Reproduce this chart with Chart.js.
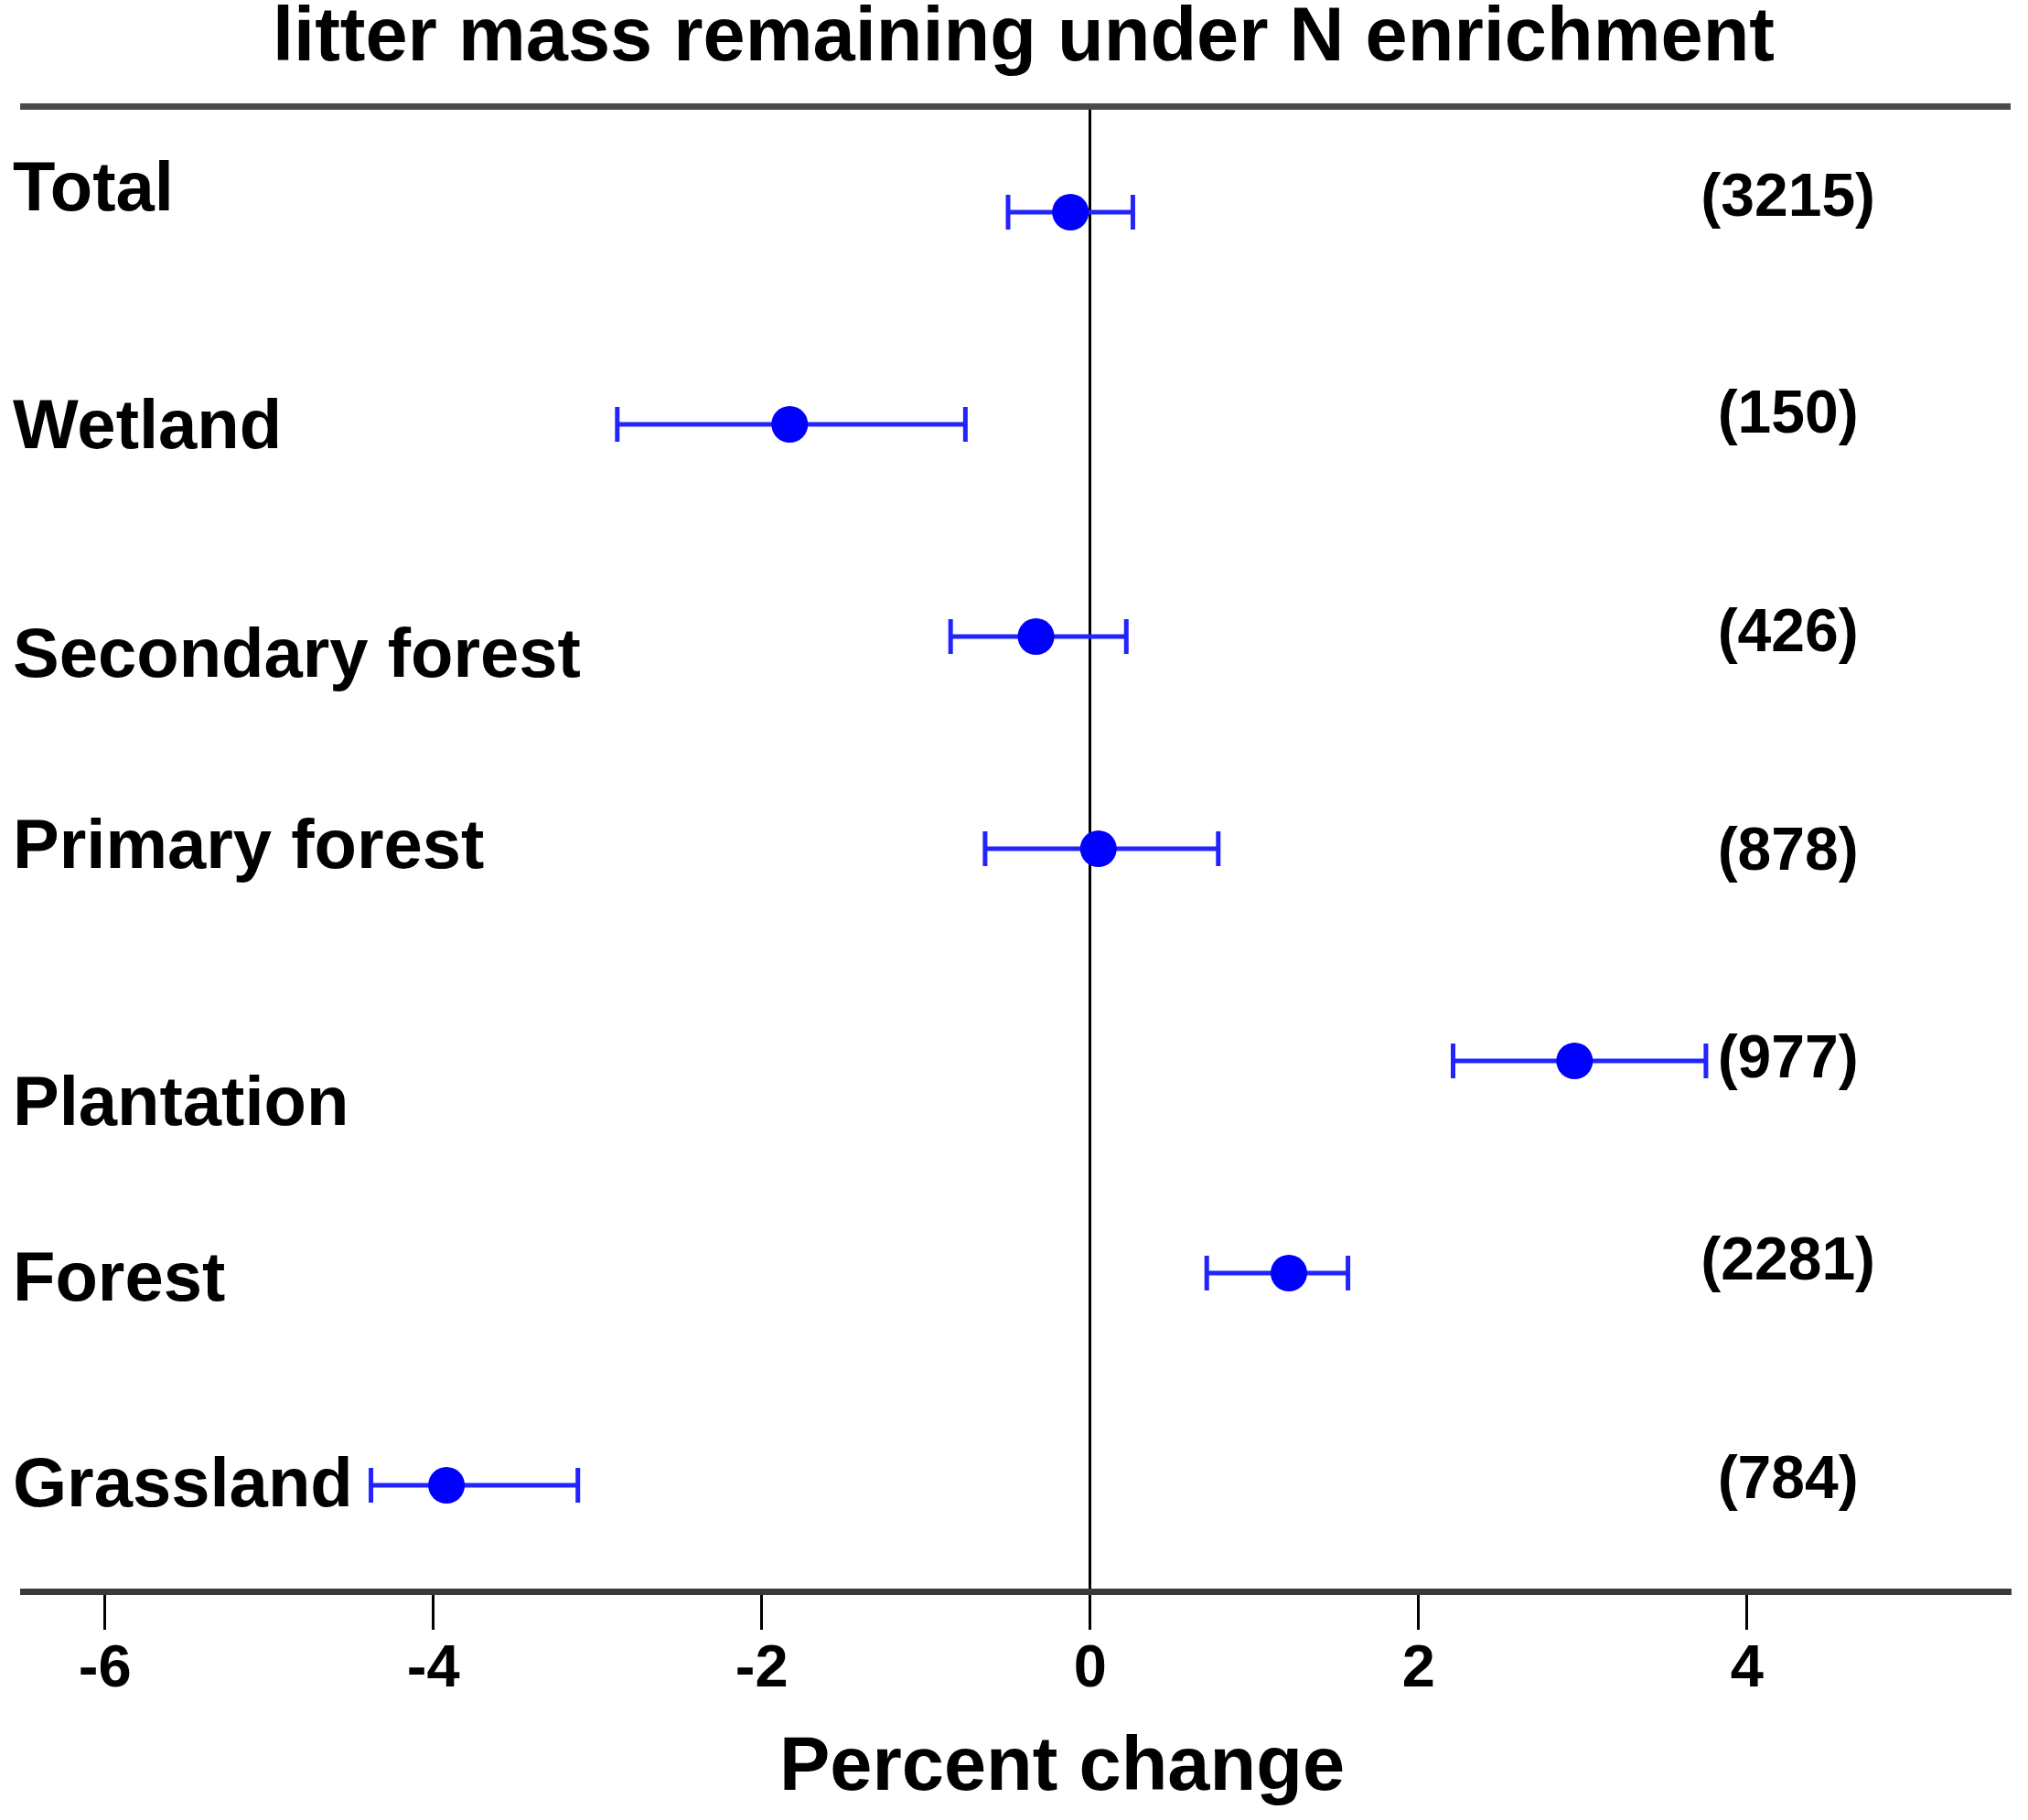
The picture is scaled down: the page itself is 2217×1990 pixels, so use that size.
<!DOCTYPE html>
<html>
<head>
<meta charset="utf-8">
<title>litter mass remaining under N enrichment</title>
<script src="https://cdn.jsdelivr.net/npm/chart.js@4/dist/chart.umd.min.js"></script>
<style>
    html, body { margin: 0; padding: 0; background: #FFFFFF; }
    #wrap { width: 2217px; height: 1990px; position: relative; }
</style>
</head>
<body>
<div id="wrap"><canvas id="forestChart"></canvas></div>
<script>
// Data
const categories = ['Total', 'Wetland', 'Secondary forest', 'Primary forest', 'Plantation', 'Forest', 'Grassland'];
const meanChange = [-0.12, -1.83, -0.33, 0.05, 2.95, 1.21, -3.92];
const lowerCI = [-0.50, -2.88, -0.85, -0.64, 2.21, 0.71, -4.38];
const upperCI = [0.26, -0.76, 0.22, 0.78, 3.75, 1.57, -3.12];
const sampleSizes = ['(3215)', '(150)', '(426)', '(878)', '(977)', '(2281)', '(784)'];
const xTicks = [-6, -4, -2, 0, 2, 4];

const FONT = "'Liberation Sans', Arial, sans-serif";
const BLUE = '#0000FF';

// Small vertical nudges (fraction of a row) so the texts sit like in the figure
const labelNudge = [-0.10, 0.02, 0.10, 0, 0.21, 0.04, 0.01];
const countNudge = [-0.06, -0.04, -0.01, 0.02, 0, -0.05, -0.02];

// Error bars with caps
const errorBarPlugin = {
    id: 'errorBars',
    beforeDatasetsDraw(chart) {
        const ctx = chart.ctx;
        const xScale = chart.scales.x;
        const yScale = chart.scales.y;
        ctx.save();
        ctx.strokeStyle = '#2323FF';
        ctx.lineWidth = 5;
        categories.forEach((c, i) => {
            const y = yScale.getPixelForValue(i);
            const x1 = xScale.getPixelForValue(lowerCI[i]);
            const x2 = xScale.getPixelForValue(upperCI[i]);
            ctx.beginPath();
            ctx.moveTo(x1, y);
            ctx.lineTo(x2, y);
            ctx.moveTo(x1, y - 19);
            ctx.lineTo(x1, y + 19);
            ctx.moveTo(x2, y - 19);
            ctx.lineTo(x2, y + 19);
            ctx.stroke();
        });
        ctx.restore();
    }
};

// Row labels on the left, sample sizes on the right, axis title below
const rowTextPlugin = {
    id: 'rowText',
    afterDatasetsDraw(chart) {
        const ctx = chart.ctx;
        const xScale = chart.scales.x;
        const yScale = chart.scales.y;
        const rowH = Math.abs(yScale.getPixelForValue(1) - yScale.getPixelForValue(0));
        ctx.save();
        ctx.fillStyle = '#000000';
        ctx.textBaseline = 'middle';

        ctx.font = 'bold 76px ' + FONT;
        ctx.textAlign = 'left';
        categories.forEach((c, i) => {
            ctx.fillText(c, 14, yScale.getPixelForValue(i) + labelNudge[i] * rowH);
        });

        ctx.font = 'bold 66px ' + FONT;
        ctx.textAlign = 'center';
        const xc = xScale.getPixelForValue(4.25);
        sampleSizes.forEach((s, i) => {
            ctx.fillText(s, xc, yScale.getPixelForValue(i) + countNudge[i] * rowH);
        });

        // x axis title sits a little right of the centre in the figure
        ctx.font = 'bold 83px ' + FONT;
        const area = chart.chartArea;
        ctx.fillText('Percent change', (area.left + area.right) / 2 + 50, chart.height - 56);
        ctx.restore();
    }
};

function initChart() {
    const ctx = document.getElementById('forestChart');

    new Chart(ctx, {
        type: 'line',
        data: {
            labels: categories,
            datasets: [{
                label: 'Percent change',
                data: meanChange,
                showLine: false,
                pointRadius: 20,
                pointHoverRadius: 20,
                pointBackgroundColor: BLUE,
                pointBorderColor: BLUE,
                pointBorderWidth: 0
            }]
        },
        options: {
            indexAxis: 'y',
            responsive: true,
            maintainAspectRatio: false,
            animation: false,
            layout: {
                padding: { left: 25, right: 4, top: 0, bottom: 119 }
            },
            plugins: {
                legend: { display: false },
                tooltip: { enabled: false },
                title: {
                    display: true,
                    text: 'litter mass remaining under N enrichment',
                    color: '#000000',
                    font: { family: FONT, weight: 'bold', size: 83, lineHeight: 1 },
                    padding: { top: 2, bottom: 31 }
                }
            },
            scales: {
                y: {
                    type: 'category',
                    display: false,
                    offset: true
                },
                x: {
                    type: 'linear',
                    position: 'bottom',
                    min: -6.5,
                    max: 5.6,
                    afterBuildTicks: function(axis) {
                        axis.ticks = xTicks.map(v => ({ value: v }));
                    },
                    border: { display: true, color: '#3A3A3A', width: 7 },
                    grid: {
                        drawOnChartArea: true,
                        color: function(c) {
                            return c.tick && c.tick.value === 0 ? '#000000' : 'rgba(0,0,0,0)';
                        },
                        lineWidth: 3,
                        tickColor: '#000000',
                        tickWidth: 3,
                        tickLength: 42
                    },
                    ticks: {
                        color: '#000000',
                        padding: 12,
                        maxRotation: 0,
                        font: { family: FONT, weight: 'bold', size: 65, lineHeight: 1 }
                    },
                    title: { display: false }
                },
                x2: {
                    type: 'linear',
                    position: 'top',
                    min: -6.5,
                    max: 5.6,
                    border: { display: true, color: '#4A4A4A', width: 7 },
                    grid: { display: false, drawTicks: false },
                    ticks: { display: false }
                }
            }
        },
        plugins: [errorBarPlugin, rowTextPlugin]
    });
}

document.addEventListener('DOMContentLoaded', initChart);
</script>
</body>
</html>
